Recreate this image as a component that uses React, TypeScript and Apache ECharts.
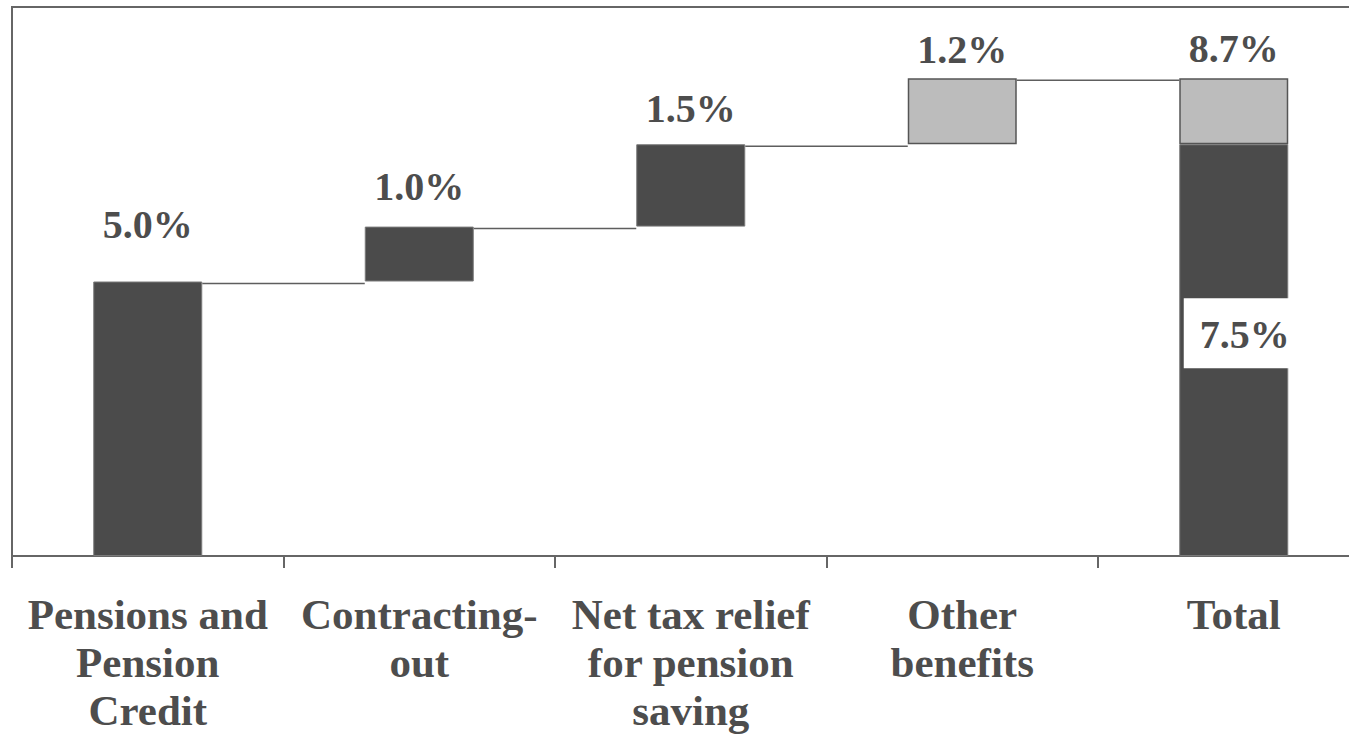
import React, { useEffect, useRef } from "react";
import * as echarts from "echarts";

const categories = [
  "Pensions and\nPension\nCredit",
  "Contracting-\nout",
  "Net tax relief\nfor pension\nsaving",
  "Other\nbenefits",
  "Total",
];
// invisible base of each floating bar
const baseValues: (number | string)[] = [0, 5.0, 6.0, 7.5, 0];
// dark segments (pension-related)
const darkValues: (number | string)[] = [5.0, 1.0, 1.5, "-", 7.5];
// light segments (other benefits)
const lightValues: (number | string)[] = ["-", "-", "-", 1.2, 1.2];
// labels shown above bars
const topLabels = ["5.0%", "1.0%", "1.5%", "1.2%", "8.7%"];
const totalDarkLabel = "7.5%";
// connector levels (running total after each step)
const connectorLevels = [5.0, 6.0, 7.5, 8.7];

const DARK = "#4b4b4b";
const LIGHT = "#bcbcbc";
const TEXT = "#4d4d4d";
const LINE = "#5e5e5e";
const BAR_W = 109;
const labelDist = [37, 20, 16, 9, 10];
const SERIF = "'Liberation Serif', 'DejaVu Serif', serif";

export default function App() {
  const ref = useRef<HTMLDivElement>(null);
  useEffect(() => {
    document.body.style.overflow = "hidden";
    const chart = echarts.init(ref.current!, null, { renderer: "svg" });
    const labelFont = {
      fontFamily: SERIF,
      fontWeight: "bold" as const,
      fontSize: 40,
      color: TEXT,
    };
    chart.setOption({
      animation: false,
      grid: {
        left: 12,
        top: 7,
        right: 10.5,
        bottom: 181,
        show: true,
        borderColor: "#666",
        borderWidth: 2,
        containLabel: false,
      },
      xAxis: {
        type: "category",
        data: categories,
        axisLine: { show: true, lineStyle: { color: "#666", width: 2 } },
        axisTick: { show: true, length: 12, lineStyle: { color: "#666", width: 2 } },
        axisLabel: {
          interval: 0,
          margin: 34,
          fontFamily: SERIF,
          fontWeight: "bold",
          fontSize: 43,
          lineHeight: 48,
          color: TEXT,
        },
      },
      yAxis: {
        type: "value",
        min: 0,
        max: 10,
        axisLine: { show: true, lineStyle: { color: "#666", width: 2 } },
        axisTick: { show: false },
        axisLabel: { show: false },
        splitLine: { show: false },
      },
      series: [
        {
          name: "base",
          type: "bar",
          stack: "s",
          barWidth: BAR_W,
          itemStyle: { color: "transparent" },
          emphasis: { disabled: true },
          data: baseValues,
        },
        {
          name: "dark",
          type: "bar",
          stack: "s",
          barWidth: BAR_W,
          itemStyle: { color: DARK, borderColor: "#7a7a7a", borderWidth: 1 },
          data: darkValues.map((v, i) => {
            if (v === "-") return v;
            if (i === 4) {
              return {
                value: v,
                label: {
                  show: true,
                  position: "insideTop",
                  distance: 154,
                  offset: [3, 0],
                  formatter: totalDarkLabel,
                  backgroundColor: "#ffffff",
                  padding: [14, 0, 12, 16],
                  lineHeight: 44,
                  ...labelFont,
                },
              };
            }
            return {
              value: v,
              label: {
                show: true,
                position: "top",
                distance: labelDist[i],
                formatter: topLabels[i],
                lineHeight: 40,
                ...labelFont,
              },
            };
          }),
        },
        {
          name: "light",
          type: "bar",
          stack: "s",
          barWidth: BAR_W,
          itemStyle: { color: LIGHT, borderColor: "#555", borderWidth: 1.5 },
          data: lightValues.map((v, i) =>
            v === "-"
              ? v
              : {
                  value: v,
                  label: {
                    show: true,
                    position: "top",
                    distance: labelDist[i],
                    formatter: topLabels[i],
                    lineHeight: 40,
                    ...labelFont,
                  },
                }
          ),
        },
        {
          name: "connectors",
          type: "custom",
          silent: true,
          data: connectorLevels.map((lv, i) => [i, lv]),
          renderItem: (params: any, api: any) => {
            const i = api.value(0);
            const lv = api.value(1);
            const p = api.coord([i, lv]);
            const cellW = api.size([1, 0])[0];
            return {
              type: "line",
              shape: {
                x1: p[0] + BAR_W / 2,
                y1: p[1] + 2,
                x2: p[0] + cellW - BAR_W / 2,
                y2: p[1] + 2,
              },
              style: { stroke: LINE, lineWidth: 1.5 },
            };
          },
        },
      ],
    });
    return () => chart.dispose();
  }, []);
  return (
    <div
      ref={ref}
      style={{ position: "fixed", left: 0, top: 0, width: 1380, height: 737, background: "#fff" }}
    />
  );
}
